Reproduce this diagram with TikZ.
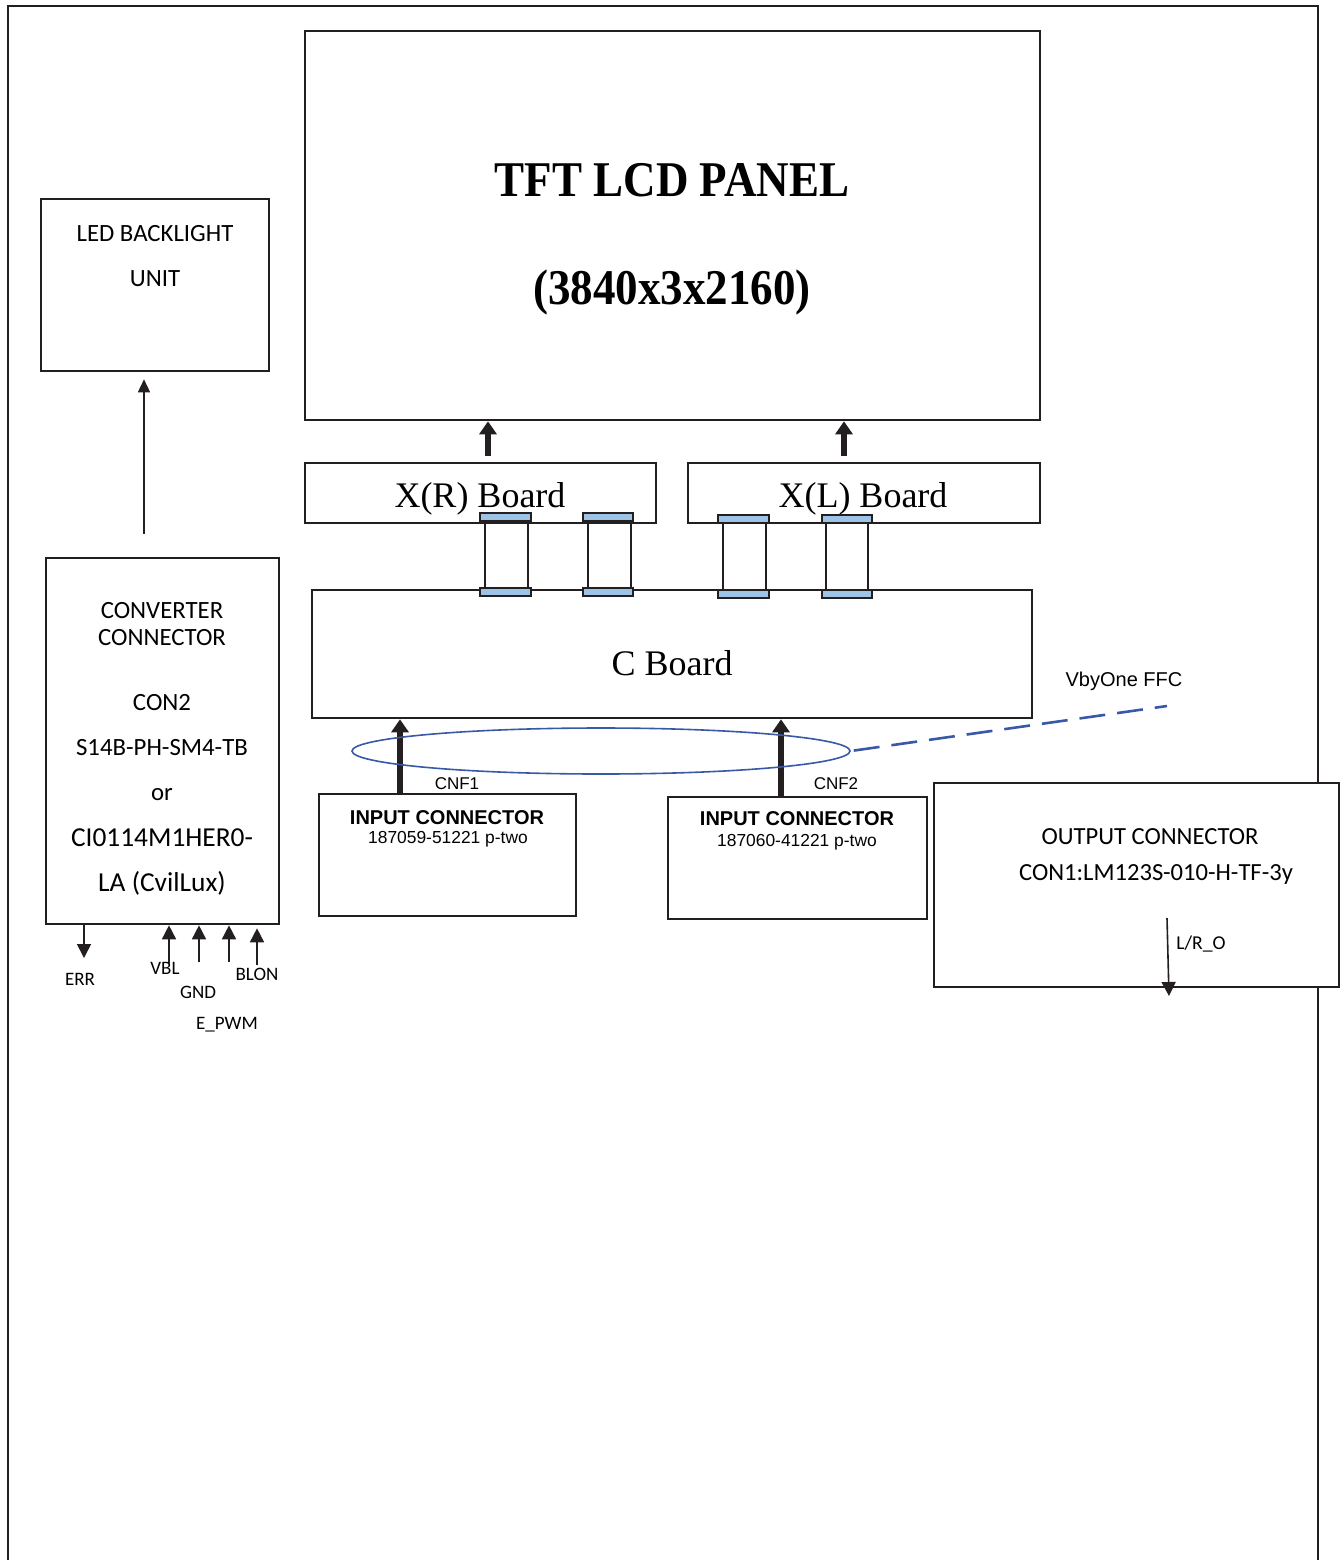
\documentclass[tikz,border=0pt]{standalone}
\usepackage{fontspec}
\usetikzlibrary{arrows.meta,fit,shapes.geometric}
\newfontfamily\calfont{Carlito}
\newfontfamily\arialfont{Liberation Sans}
\newfontfamily\seriffont{Liberation Serif}
\newfontfamily\titlefont[FakeStretch=0.9]{Liberation Serif}
\definecolor{ink}{HTML}{231F20}
\definecolor{tabblue}{HTML}{9DC3E6}
\definecolor{ffcblue}{HTML}{3A58A8}
\newcommand\fsz[1]{\fontsize{#1}{#1}\selectfont}
\begin{document}
\begin{tikzpicture}[x=0.5pt,y=-0.5pt,
  frame/.style={draw=ink, line width=1pt},
  box/.style={draw=ink, line width=1.3pt, fill=white, inner sep=0pt},
  thickarrow/.style={draw=ink, line width=3pt, -{Triangle[length=6.5pt,width=8.5pt]}},
  sigarrow/.style={draw=ink, line width=0.8pt, -{Triangle[length=7pt,width=7pt]}},
  ffcline/.style={draw=ink, line width=1pt},
  tab/.style={draw=ink, line width=0.8pt, fill=tabblue},
  lbl/.style={anchor=base, inner sep=0pt},
  cal/.style={lbl, font=\calfont\fsz{12.4}},
  sig/.style={lbl, font=\calfont\fsz{9.5}},
  brd/.style={lbl, font=\seriffont\fsz{18}},
]
\useasboundingbox (0,0) rectangle (1340,1560);
\fill[white] (0,0) rectangle (1340,1560);
% outer frame (open at bottom)
\draw[frame] (8,1570) -- (8,6) -- (1318,6) -- (1318,1570);

% panel
\node[box, fit={(305,31) (1040,420)}] (panel) {};
\node[lbl, font=\titlefont\bfseries\fsz{25}] (paneltitle) at (672,196) {TFT LCD PANEL};
\node[lbl, font=\titlefont\bfseries\fsz{25}] (panelres) at (672,304) {(3840x3x2160)};

% LED backlight
\node[box, fit={(41,199) (269,371)}] (led) {};
\node[cal] (ledt1) at (155,241) {LED BACKLIGHT};
\node[cal] (ledt2) at (155,286) {UNIT};

% converter connector
\node[box, fit={(46,558) (279,924)}] (conv) {};
\node[cal] (cv1) at (162,618) {CONVERTER};
\node[cal] (cv2) at (162,645) {CONNECTOR};
\node[cal] (cv3) at (162,710) {CON2};
\node[cal] (cv4) at (162,755) {S14B-PH-SM4-TB};
\node[cal] (cv5) at (162,800) {or};
\node[lbl, font=\calfont\fsz{13.7}] (cv6) at (162,846) {CI0114M1HER0-};
\node[lbl, font=\calfont\fsz{13.7}] (cv7) at (162,891) {LA (CvilLux)};

% converter -> LED
\draw[draw=ink, line width=0.8pt, -{Triangle[length=6.5pt,width=6pt]}, shorten <=11.5pt, shorten >=3.5pt]
  (conv.north -| 144,0) -- (led.south -| 144,0);

% X boards
\node[box, fit={(305,463) (656,523)}] (xr) {};
\node[brd] (xrt) at (480,507) {X(R) Board};
\node[box, fit={(688,463) (1040,523)}] (xl) {};
\node[brd] (xlt) at (863,507) {X(L) Board};

\draw[thickarrow, shorten <=3pt] (xr.north -| 488,0) -- (panel.south -| 488,0);
\draw[thickarrow, shorten <=3pt] (xl.north -| 844,0) -- (panel.south -| 844,0);

% C board
\node[box, fit={(312,590) (1032,718)}] (cb) {};
\node[brd] (cbt) at (672,675) {C Board};

% FFC links between X boards and C board
\foreach \a/\b/\c/\d/\t/\u in {480/531/485/528/513/588, 583/633/588/631/513/588, 718/769/723/766/515/590, 822/872/826/868/515/590} {
  \draw[ffcline] (\c,\t+4) rectangle (\d,\u+4);
  \draw[tab] (\a,\t) rectangle (\b,\t+8);
  \draw[tab] (\a,\u) rectangle (\b,\u+8);
}

% input connectors
\node[box, fit={(319,794) (576,916)}] (in1) {};
\node[lbl, font=\arialfont\bfseries\fsz{10}] (in1a) at (447,824) {INPUT CONNECTOR};
\node[lbl, font=\arialfont\fsz{8.7}] (in1b) at (448,843) {187059-51221 p-two};
\node[box, fit={(668,797) (927,919)}] (in2) {};
\node[lbl, font=\arialfont\bfseries\fsz{10}] (in2a) at (797,825) {INPUT CONNECTOR};
\node[lbl, font=\arialfont\fsz{8.7}] (in2b) at (797,846) {187060-41221 p-two};

\draw[thickarrow] (in1.north -| 400,0) -- (cb.south -| 400,0);
\draw[thickarrow] (in2.north -| 781,0) -- (cb.south -| 781,0);
\node[lbl, font=\arialfont\fsz{8.5}] (cnf1) at (457,789) {CNF1};
\node[lbl, font=\arialfont\fsz{8.5}] (cnf2) at (836,789) {CNF2};

% VbyOne FFC ellipse
\node[ellipse, draw=ffcblue, line width=0.8pt, inner sep=0pt, minimum width=249pt, minimum height=23pt] (ffc) at (601,751) {};
\coordinate (ffcend) at (1167,706);
\draw[draw=ffcblue, line width=1.3pt, dash pattern=on 13pt off 6pt, shorten <=1.5pt] (ffc.east) -- (ffcend);
\node[lbl, font=\arialfont\fsz{10}] (vbyone) at (1124,686) {VbyOne FFC};

% output connector
\node[box, fit={(934,783) (1339,987)}] (out) {};
\node[lbl, font=\calfont\fsz{12.3}] (out1) at (1150,844) {OUTPUT CONNECTOR};
\node[lbl, font=\calfont\fsz{12.3}] (out2) at (1156,880) {CON1:LM123S-010-H-TF-3y};
\coordinate (lrs) at (1167,918);
\coordinate (lre) at (1169,996);
\draw[sigarrow] (lrs) -- (lre);
\node[lbl, anchor=base west, font=\calfont\fsz{9.8}] (lrt) at (1176,949) {L/R\_O};

% converter signals
\coordinate (errend) at (84,958);
\draw[sigarrow] (conv.south -| 84,0) -- (errend);
\coordinate (vblst) at (169,963);
\coordinate (gndst) at (199,962);
\coordinate (pwmst) at (229,962);
\coordinate (blonst) at (257,965);
\draw[sigarrow] (vblst) -- (conv.south -| vblst);
\draw[sigarrow] (gndst) -- (conv.south -| gndst);
\draw[sigarrow] (pwmst) -- (conv.south -| pwmst);
\draw[sigarrow, shorten >=1.5pt] (blonst) -- (conv.south -| blonst);
\node[sig] (err) at (80,985) {ERR};
\node[sig] (vbl) at (165,974) {VBL};
\node[sig] (gnd) at (198,998) {GND};
\node[sig] (pwm) at (227,1029) {E\_PWM};
\node[sig] (blon) at (257,980) {BLON};
\end{tikzpicture}
\end{document}
